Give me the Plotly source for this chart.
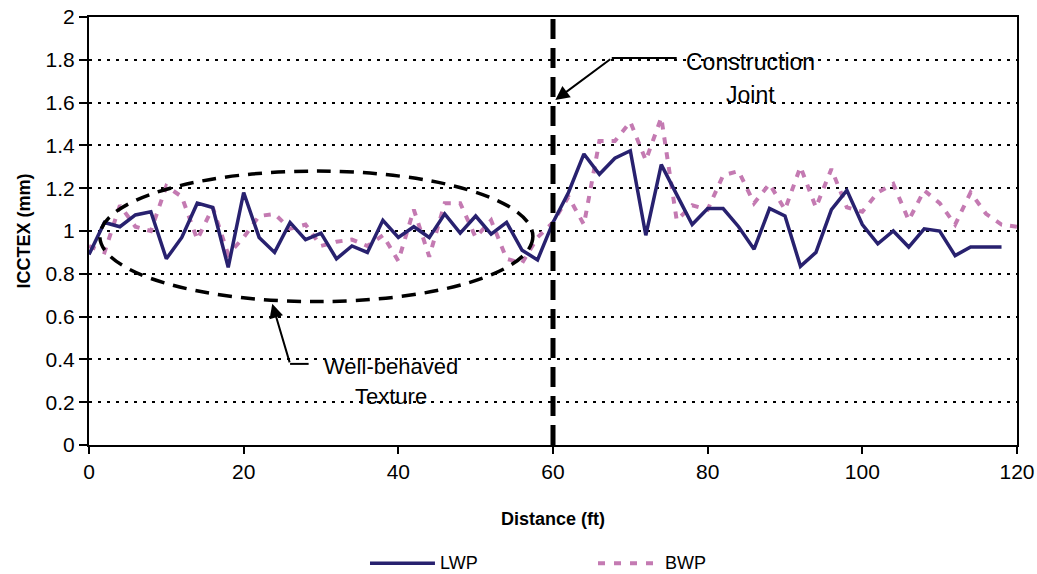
import plotly.graph_objects as go

# Distance along the slab (ft)
lwp_dist = list(range(0, 120, 2))
bwp_dist = list(range(0, 122, 2))

# ICCTEX texture depth (mm), left wheel path
lwp_icctex = [
    0.89, 1.04, 1.02, 1.075, 1.09, 0.87, 0.97, 1.13, 1.11, 0.83,
    1.18, 0.97, 0.90, 1.04, 0.96, 0.99, 0.87, 0.93, 0.90, 1.05,
    0.97, 1.02, 0.97, 1.08, 0.99, 1.07, 0.985, 1.04, 0.91, 0.865,
    1.04, 1.18, 1.36, 1.265, 1.34, 1.375, 0.98, 1.31, 1.17, 1.03,
    1.105, 1.105, 1.02, 0.915, 1.105, 1.07, 0.835, 0.90, 1.10, 1.19,
    1.03, 0.94, 1.0, 0.925, 1.01, 1.0, 0.885, 0.925, 0.925, 0.925,
]

# ICCTEX texture depth (mm), between wheel paths
bwp_icctex = [
    0.93, 0.90, 1.12, 1.02, 1.00, 1.21, 1.16, 0.96, 1.11, 0.89,
    0.97, 1.07, 1.08, 1.01, 1.03, 0.93, 0.95, 0.96, 0.93, 0.98,
    0.86, 1.10, 0.88, 1.13, 1.13, 0.97, 1.05, 0.87, 0.85, 0.97,
    1.04, 1.16, 1.03, 1.42, 1.42, 1.51, 1.33, 1.53, 1.05, 1.12,
    1.10, 1.26, 1.28, 1.13, 1.22, 1.10, 1.30, 1.11, 1.29, 1.11,
    1.09, 1.18, 1.22, 1.05, 1.19, 1.13, 1.03, 1.18, 1.08, 1.03,
    1.02,
]

joint_at = 60

LWP_COLOR = "#28216F"
BWP_COLOR = "#C47AB2"
FONT = "Liberation Sans, Arial, sans-serif"


def ypx(px):
    """Convert a vertical pixel offset inside the plot frame to ICCTEX units."""
    return (445 - px) / 214


fig = go.Figure()
fig.add_trace(go.Scatter(
    x=bwp_dist, y=bwp_icctex, mode="lines", name="BWP",
    line=dict(color=BWP_COLOR, width=4, dash="7px,8px"),
    showlegend=False,
))
fig.add_trace(go.Scatter(
    x=lwp_dist, y=lwp_icctex, mode="lines", name="LWP",
    line=dict(color=LWP_COLOR, width=3.5),
    showlegend=False,
))

shapes = []
# white masks behind the callout texts
shapes.append(dict(type="rect", xref="x", yref="y", x0=76.6, x1=95.5, y0=1.53, y1=1.9,
                   fillcolor="white", line=dict(width=0), layer="below"))
shapes.append(dict(type="rect", xref="x", yref="y", x0=28.6, x1=49.4, y0=0.14, y1=0.47,
                   fillcolor="white", line=dict(width=0), layer="below"))
# construction joint
shapes.append(dict(type="line", xref="x", yref="y", x0=joint_at, x1=joint_at, y0=0, y1=2,
                   line=dict(color="black", width=5, dash="20px,9px")))
# well-behaved region
shapes.append(dict(type="circle", xref="x", yref="y", x0=1.4, x1=57.4, y0=0.67, y1=1.28,
                   line=dict(color="black", width=3.5, dash="14px,9px")))
# leader lines
shapes.append(dict(type="line", xref="x", yref="y", x0=67.6, x1=76.0, y0=1.808, y1=1.808,
                   line=dict(color="black", width=2)))
shapes.append(dict(type="line", xref="x", yref="y", x0=26.0, x1=28.4, y0=0.379, y1=0.379,
                   line=dict(color="black", width=2)))

# legend samples (paper coords)
leg_y = -0.276
shapes.append(dict(type="line", xref="paper", yref="paper", x0=0.3028, x1=0.3728, y0=leg_y, y1=leg_y,
                   line=dict(color=LWP_COLOR, width=3.5)))
shapes.append(dict(type="line", xref="paper", yref="paper", x0=0.5485, x1=0.6153, y0=leg_y, y1=leg_y,
                   line=dict(color=BWP_COLOR, width=4, dash="7px,9px")))

annotations = [
    dict(x=60.3, y=1.612, ax=67.6, ay=1.808, xref="x", yref="y", axref="x", ayref="y",
         showarrow=True, arrowhead=2, arrowsize=1.4, arrowwidth=2, arrowcolor="black", text=""),
    dict(x=23.7, y=0.66, ax=26.0, ay=0.379, xref="x", yref="y", axref="x", ayref="y",
         showarrow=True, arrowhead=2, arrowsize=1.4, arrowwidth=2, arrowcolor="black", text=""),
    dict(x=85.5, y=ypx(62), xref="x", yref="y", text="Construction", showarrow=False,
         font=dict(family=FONT, size=23, color="black")),
    dict(x=85.5, y=ypx(95), xref="x", yref="y", text="Joint", showarrow=False,
         font=dict(family=FONT, size=23, color="black")),
    dict(x=39.0, y=ypx(366), xref="x", yref="y", text="Well-behaved", showarrow=False,
         font=dict(family=FONT, size=22, color="black")),
    dict(x=39.0, y=ypx(396), xref="x", yref="y", text="Texture", showarrow=False,
         font=dict(family=FONT, size=22, color="black")),
    dict(x=0.376, y=leg_y, xref="paper", yref="paper", text="LWP", showarrow=False,
         xanchor="left", yanchor="middle", font=dict(family=FONT, size=18, color="black")),
    dict(x=0.6185, y=leg_y, xref="paper", yref="paper", text="BWP", showarrow=False,
         xanchor="left", yanchor="middle", font=dict(family=FONT, size=18, color="black")),
]

fig.update_layout(
    width=1037, height=574,
    margin=dict(l=89, r=20, t=17, b=129, autoexpand=False),
    paper_bgcolor="white", plot_bgcolor="white",
    font=dict(family=FONT, size=21, color="black"),
    shapes=shapes, annotations=annotations,
    showlegend=False,
)
fig.update_xaxes(
    range=[0, 120], dtick=20, tick0=0,
    showline=True, linecolor="black", linewidth=2, mirror=True,
    ticks="outside", ticklen=7, tickcolor="black", tickwidth=2,
    showgrid=False, zeroline=False, automargin=False,
    title=dict(text="<b>Distance (ft)</b>", font=dict(family=FONT, size=18), standoff=30),
)
fig.update_yaxes(
    range=[0, 2], dtick=0.2, tick0=0,
    showline=True, linecolor="black", linewidth=2, mirror=True,
    ticks="outside", ticklen=8, tickcolor="black", tickwidth=2,
    showgrid=True, gridcolor="black", gridwidth=2, griddash="3px,6px",
    zeroline=False, automargin=False,
    title=dict(text="<b>ICCTEX (mm)</b>", font=dict(family=FONT, size=18), standoff=10),
)

fig.write_html("out.html")
